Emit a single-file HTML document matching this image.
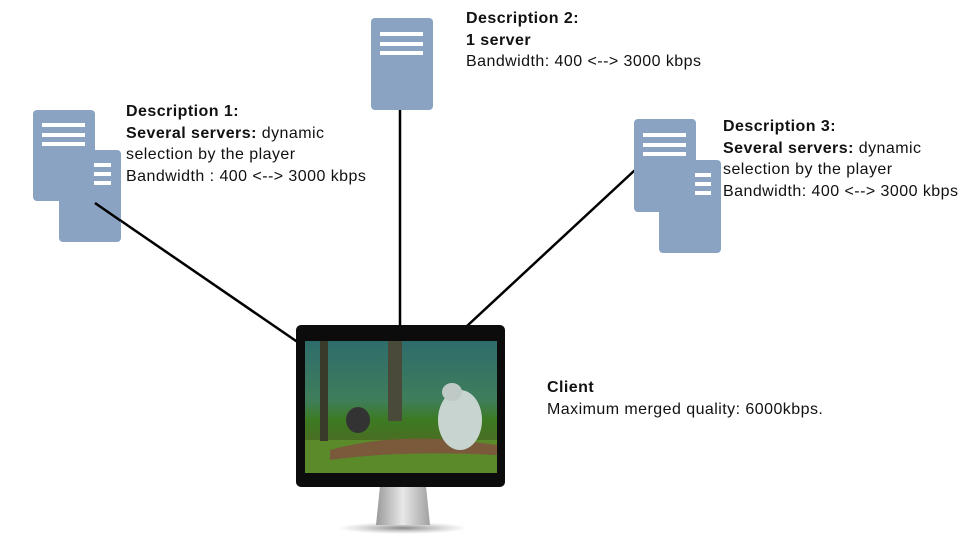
<!DOCTYPE html>
<html><head><meta charset="utf-8"><style>
body{margin:0;width:960px;height:540px;background:#fff;overflow:hidden;position:relative;font-family:"Liberation Sans",sans-serif;}
.t{position:absolute;font-size:16px;line-height:21.7px;color:#111;white-space:nowrap;letter-spacing:0.45px}
b{font-weight:bold}
</style></head><body>
<svg width="960" height="540" style="position:absolute;left:0;top:0">
<defs>
<linearGradient id="sky" x1="0" y1="0" x2="0" y2="1">
<stop offset="0" stop-color="#2e6c6c"/><stop offset="0.45" stop-color="#3f7e5a"/><stop offset="0.6" stop-color="#3d7a22"/><stop offset="0.8" stop-color="#4d6a22"/><stop offset="1" stop-color="#3e7a1e"/></linearGradient>
<linearGradient id="stand" x1="0" y1="0" x2="1" y2="0"><stop offset="0" stop-color="#9a9a9a"/><stop offset="0.5" stop-color="#e8e8e8"/><stop offset="1" stop-color="#a0a0a0"/></linearGradient>
<radialGradient id="sh"><stop offset="0" stop-color="#555" stop-opacity="0.7"/><stop offset="1" stop-color="#888" stop-opacity="0"/></radialGradient>
</defs>
<g stroke="#000" stroke-width="2.5">
<line x1="95" y1="203" x2="299" y2="343"/>
<line x1="400" y1="110" x2="400" y2="328"/>
<line x1="635" y1="170" x2="467" y2="326"/>
</g>
<g fill="#8aa3c3">
<rect x="33" y="110" width="62" height="91" rx="4"/>
<rect x="59" y="150" width="62" height="92" rx="4"/>
<rect x="371" y="18" width="62" height="92" rx="4"/>
<rect x="634" y="119" width="62" height="93" rx="4"/>
<rect x="659" y="160" width="62" height="93" rx="4"/>
</g>
<line x1="95" y1="203" x2="121" y2="221" stroke="#000" stroke-width="2.5"/>
<g fill="#fff">
<rect x="42" y="123" width="43" height="4"/><rect x="42" y="133" width="43" height="4"/><rect x="42" y="142" width="43" height="4"/>
<rect x="94" y="163" width="17" height="4"/><rect x="94" y="172" width="17" height="4"/><rect x="94" y="181" width="17" height="4"/>
<rect x="380" y="32" width="43" height="4"/><rect x="380" y="42" width="43" height="4"/><rect x="380" y="51" width="43" height="4"/>
<rect x="643" y="133" width="43" height="4"/><rect x="643" y="143" width="43" height="4"/><rect x="643" y="152" width="43" height="4"/>
<rect x="695" y="173" width="16" height="4"/><rect x="695" y="182" width="16" height="4"/><rect x="695" y="191" width="16" height="4"/>
</g>
<ellipse cx="403" cy="528" rx="65" ry="6" fill="url(#sh)"/>
<path d="M380 486 L426 486 L430 525 L376 525 Z" fill="url(#stand)"/>
<rect x="296" y="325" width="209" height="162" rx="5" fill="#0c0c0c"/>
<rect x="305" y="341" width="192" height="132" fill="url(#sky)"/>
<rect x="305" y="440" width="192" height="33" fill="#5a8a2a"/>
<path d="M330 450 Q400 430 497 445 L497 455 Q400 450 330 460Z" fill="#7a5a3a"/>
<rect x="320" y="341" width="8" height="100" fill="#3a3a2a"/>
<rect x="388" y="341" width="14" height="80" fill="#4a4a3a"/>
<ellipse cx="358" cy="420" rx="12" ry="13" fill="#333"/>
<ellipse cx="460" cy="420" rx="22" ry="30" fill="#c8d4d0"/>
<ellipse cx="452" cy="392" rx="10" ry="9" fill="#bfcac6"/>
</svg>
<div class="t" style="left:126px;top:101px"><b>Description 1:</b><br><b>Several servers:</b> dynamic<br>selection by the player<br>Bandwidth : 400 &lt;--&gt; 3000 kbps</div>
<div class="t" style="left:466px;top:8px"><b>Description 2:</b><br><b>1 server</b><br>Bandwidth: 400 &lt;--&gt; 3000 kbps</div>
<div class="t" style="left:723px;top:116px"><b>Description 3:</b><br><b>Several servers:</b> dynamic<br>selection by the player<br>Bandwidth: 400 &lt;--&gt; 3000 kbps</div>
<div class="t" style="left:547px;top:377px"><b>Client</b><br>Maximum merged quality: 6000kbps.</div>
</body></html>
